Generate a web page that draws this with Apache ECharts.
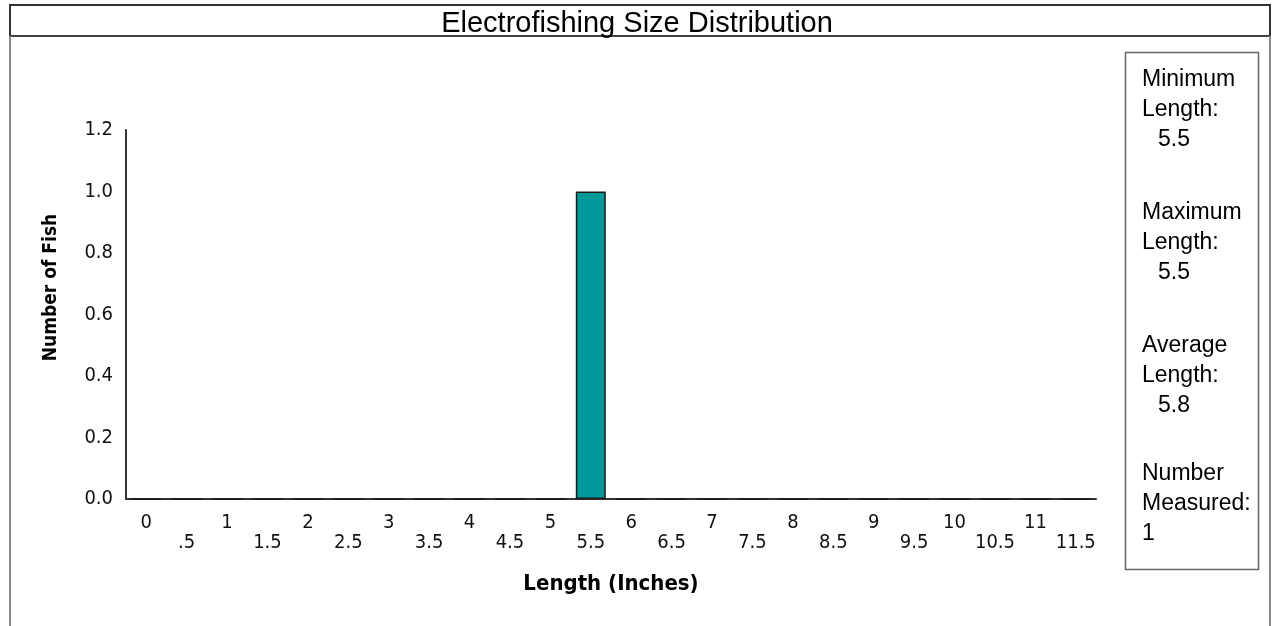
<!DOCTYPE html>
<html>
<head>
<meta charset="utf-8">
<script src="https://cdn.jsdelivr.net/npm/echarts@6/dist/echarts.min.js"></script>
<style>
html,body{margin:0;padding:0;background:#fff;}
#chart{width:1274px;height:626px;}
</style>
</head>
<body>
<div id="chart"></div>
<script>
// ---- data ----
var categories = ['0','.5','1','1.5','2','2.5','3','3.5','4','4.5','5','5.5','6','6.5','7','7.5','8','8.5','9','9.5','10','10.5','11','11.5'];
var counts = [0,0,0,0,0,0,0,0,0,0,0,1,0,0,0,0,0,0,0,0,0,0,0,0];
var yTicks = [0, 0.2, 0.4, 0.6, 0.8, 1.0, 1.2];
var chartTitle = 'Electrofishing Size Distribution';
var xName = 'Length (Inches)';
var yName = 'Number of Fish';
var statHeads = [['Minimum','Length:'],['Maximum','Length:'],['Average','Length:'],['Number','Measured:']];
var statValues = ['5.5','5.5','5.8','1'];

// ---- chart ----
var chart = echarts.init(document.getElementById('chart'), null, {renderer:'canvas'});
var narrow = "'Liberation Sans Narrow', 'Arial Narrow', 'DejaVu Sans Condensed', sans-serif";
var sans = "'Liberation Sans', Arial, sans-serif";

var graphics = [];
function line(x1,y1,x2,y2,color,w){
  graphics.push({type:'line', silent:true, shape:{x1:x1,y1:y1,x2:x2,y2:y2}, style:{stroke:color, lineWidth:w}});
}
line(10,5,1270,5,'#333',2);
line(10,36,1270,36,'#444',2);
line(10,4,10,36,'#333',2);
line(1270,4,1270,36,'#333',2);
line(10,36,10,626,'#888',2);
line(1270,36,1270,626,'#888',2);
// stats box
graphics.push({type:'rect', silent:true, shape:{x:1125.5,y:52.5,width:133,height:517}, style:{fill:'none', stroke:'#666', lineWidth:1.5}});
var groupY = [80, 213, 346, 474];
for (var g=0; g<statHeads.length; g++){
  var y0 = groupY[g];
  for (var k=0; k<statHeads[g].length; k++){
    graphics.push({type:'text', silent:true, style:{text:statHeads[g][k], x:1142, y:y0+30*k, font:'23px '+sans, fill:'#000', verticalAlign:'middle', align:'left'}});
  }
  var last = (g===3);
  graphics.push({type:'text', silent:true, style:{text:statValues[g], x: last?1142:1158, y:y0+60, font:'23px '+sans, fill:'#000', verticalAlign:'middle', align:'left'}});
}

var option = {
  backgroundColor:'#fff',
  animation:false,
  title:{
    text:chartTitle, left:'center', top:9, padding:0,
    textStyle:{fontFamily:sans, fontSize:29, fontWeight:'normal', color:'#000'}
  },
  grid:{left:126, right:178, top:130, bottom:127, containLabel:false},
  xAxis:{
    type:'category', data:categories, boundaryGap:true,
    name:xName, nameLocation:'middle', nameGap:74,
    nameTextStyle:{fontFamily:narrow, fontSize:22, fontWeight:'bold', color:'#000'},
    axisLine:{lineStyle:{color:'#333', width:2}},
    axisTick:{show:false},
    axisLabel:{
      interval:0, margin:14, lineHeight:20,
      fontFamily:narrow, fontSize:20, color:'#111',
      formatter:function(v, i){ return (i % 2) ? '\n' + v : v; }
    },
    splitLine:{show:false}
  },
  yAxis:{
    type:'value', min:0, max:yTicks[yTicks.length-1], interval:yTicks[1]-yTicks[0],
    name:yName, nameLocation:'middle', nameGap:65,
    nameTextStyle:{fontFamily:narrow, fontSize:19, fontWeight:'bold', color:'#000', padding:[0,0,0,54]},
    axisLine:{show:true, lineStyle:{color:'#333', width:2}},
    axisTick:{show:false},
    axisLabel:{margin:13, fontFamily:narrow, fontSize:20, color:'#111', formatter:function(v){return v.toFixed(1);}},
    splitLine:{show:false}
  },
  series:[{
    type:'bar', data:counts, barWidth:30,
    itemStyle:{color:'#009999', borderColor:'#1a1a1a', borderWidth:1.5},
    silent:true
  }],
  graphic:graphics
};
chart.setOption(option);
</script>
</body>
</html>
